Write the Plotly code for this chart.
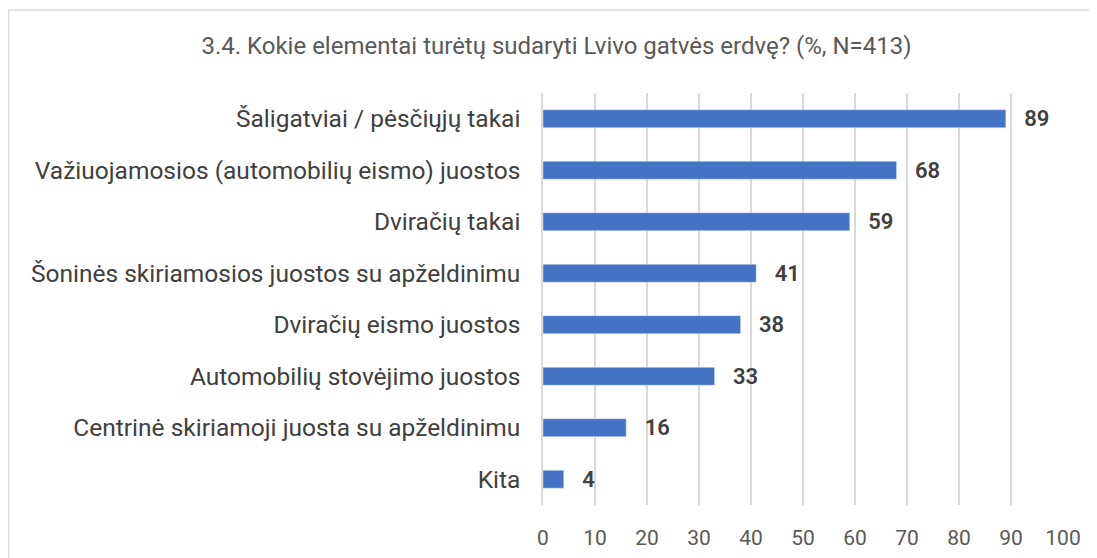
import plotly.graph_objects as go

categories = [
    "Šaligatviai / pėsčiųjų takai",
    "Važiuojamosios (automobilių eismo) juostos",
    "Dviračių takai",
    "Šoninės skiriamosios juostos su apželdinimu",
    "Dviračių eismo juostos",
    "Automobilių stovėjimo juostos",
    "Centrinė skiriamoji juosta su apželdinimu",
    "Kita",
]
values = [89, 68, 59, 41, 38, 33, 16, 4]
tick_vals = list(range(0, 101, 10))

FONT = "Roboto"
# page body has an 8px default margin; figure coords are offset by it
L, R, T, B = 535, 42, 85, 61
W, H = 1097, 558
PW, PH = W - L - R, H - T - B

fig = go.Figure(go.Bar(
    y=categories, x=values, orientation="h",
    marker=dict(color="#4472C4"),
    text=["  \u2009" + str(v) for v in values], textposition="outside",
    constraintext="none",
    textfont=dict(family=FONT, size=22, color="#404040", weight=600),
    cliponaxis=False,
))
fig.update_layout(
    width=W, height=H,
    margin=dict(l=L, r=R, t=T, b=B),
    paper_bgcolor="white", plot_bgcolor="white",
    bargap=0.65,
    showlegend=False,
    title=dict(text="3.4. Kokie elementai turėtų sudaryti Lvivo gatvės erdvę? (%, N=413)",
               x=0.5, xanchor="center", y=1 - 38 / H, yanchor="middle",
               font=dict(family=FONT, size=24, color="#595959")),
    font=dict(family=FONT, color="#595959"),
    xaxis=dict(range=[0, 100], tickvals=tick_vals, showgrid=True, gridcolor="#d9d9d9",
               gridwidth=1.5, zeroline=False, showline=False, ticks="",
               ticklabelstandoff=18,
               tickfont=dict(family=FONT, size=21, color="#595959")),
    yaxis=dict(autorange="reversed", showline=True, linecolor="#d9d9d9", linewidth=1.5,
               ticks="", ticklabelstandoff=16,
               tickfont=dict(family=FONT, size=24.5, color="#404040")),
    shapes=[dict(type="rect", xref="paper", yref="paper",
                 x0=(0.5 - L) / PW, x1=(W + 40 - L) / PW,
                 y0=-(H + 40 - (T + PH)) / PH, y1=(T + PH - 2) / PH,
                 line=dict(color="#d9d9d9", width=1.5), fillcolor="rgba(0,0,0,0)", layer="below")],
)
fig.write_html("out.html")
